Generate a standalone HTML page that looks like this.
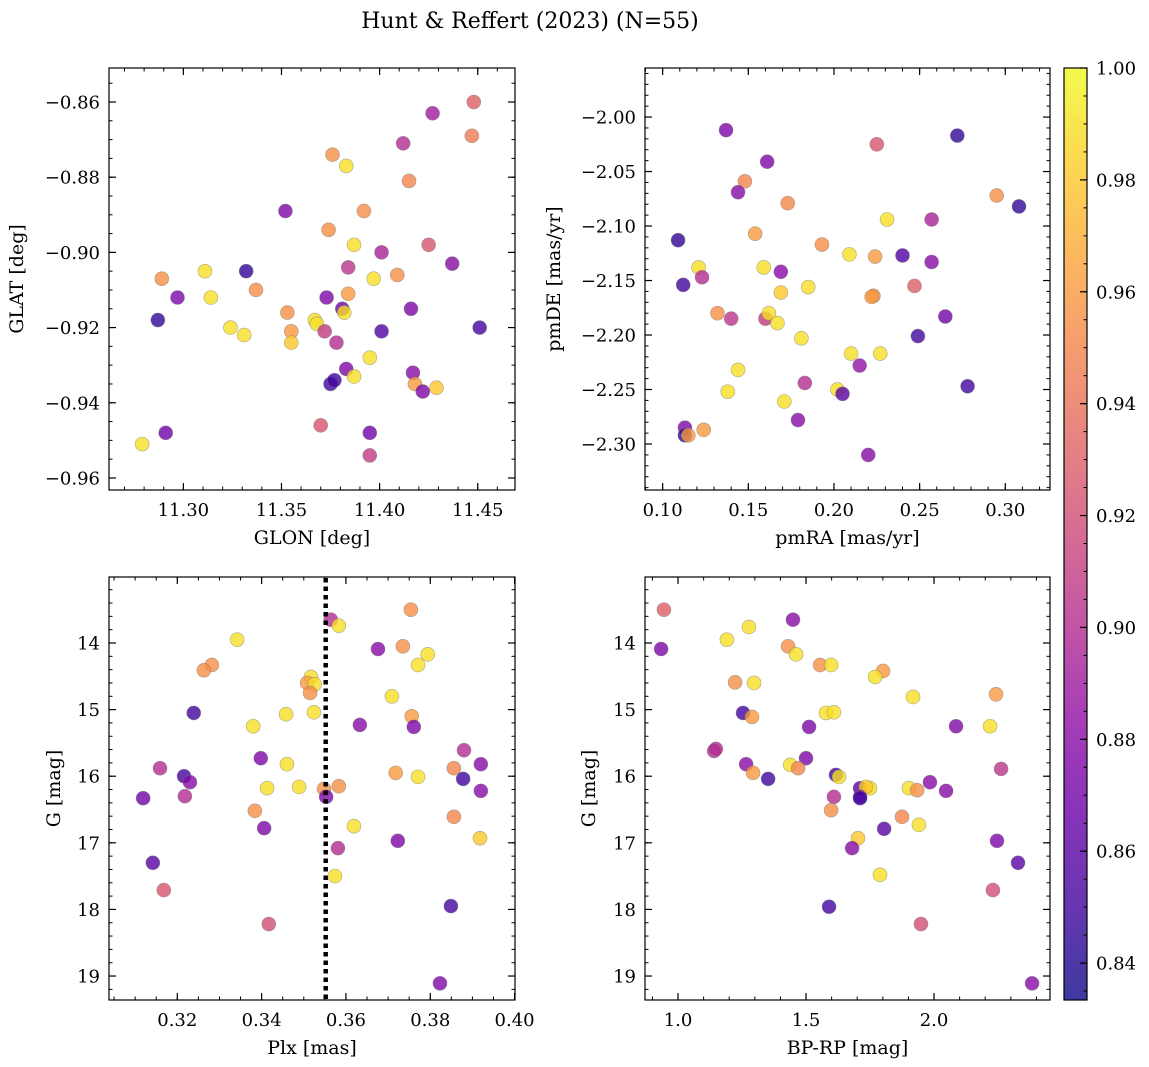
<!DOCTYPE html>
<html><head><meta charset="utf-8"><style>
body{margin:0;background:#fff;}
svg{display:block;font-family:"DejaVu Serif","Liberation Serif",serif;}
</style></head><body>
<svg id="fig" width="1149" height="1067" viewBox="0 0 1149 1067">
<text x="530" y="28" font-size="22" text-anchor="middle">Hunt &amp; Reffert (2023) (N=55)</text>
</svg>
<script>
// ---- Panel 1: GLON vs GLAT ----
const p1x=[11.448,11.447,11.427,11.412,11.415,11.376,11.383,11.352,11.392,11.374,11.387,11.425,11.401,11.409,11.437,11.289,11.311,11.332,11.384,11.397,11.337,11.297,11.314,11.373,11.384,11.381,11.382,11.353,11.416,11.324,11.331,11.287,11.367,11.368,11.355,11.355,11.372,11.451,11.401,11.378,11.383,11.395,11.387,11.417,11.375,11.377,11.418,11.429,11.422,11.370,11.395,11.395,11.279,11.291];
const p1y=[-0.860,-0.869,-0.863,-0.871,-0.881,-0.874,-0.877,-0.889,-0.889,-0.894,-0.898,-0.898,-0.900,-0.906,-0.903,-0.907,-0.905,-0.905,-0.904,-0.907,-0.910,-0.912,-0.912,-0.912,-0.911,-0.915,-0.916,-0.916,-0.915,-0.920,-0.922,-0.918,-0.918,-0.919,-0.921,-0.924,-0.921,-0.920,-0.921,-0.924,-0.931,-0.928,-0.933,-0.932,-0.935,-0.934,-0.935,-0.936,-0.937,-0.946,-0.948,-0.954,-0.951,-0.948];
const p1c=[0.93,0.945,0.89,0.90,0.95,0.955,0.99,0.875,0.955,0.955,0.99,0.925,0.895,0.955,0.88,0.955,0.99,0.845,0.905,0.99,0.955,0.875,0.99,0.875,0.96,0.87,0.99,0.955,0.875,0.99,0.99,0.845,0.99,0.99,0.96,0.98,0.91,0.85,0.855,0.90,0.875,0.99,0.99,0.88,0.85,0.85,0.96,0.98,0.875,0.925,0.87,0.91,0.99,0.87];
// ---- Panel 2: pmRA vs pmDE ----
const p2x=[0.137,0.272,0.225,0.161,0.148,0.144,0.173,0.295,0.308,0.231,0.257,0.154,0.109,0.193,0.209,0.240,0.257,0.224,0.121,0.123,0.159,0.169,0.112,0.185,0.169,0.223,0.222,0.247,0.132,0.140,0.160,0.162,0.167,0.265,0.249,0.181,0.210,0.227,0.144,0.215,0.278,0.183,0.138,0.202,0.205,0.171,0.179,0.113,0.124,0.113,0.115,0.220];
const p2y=[-2.012,-2.017,-2.025,-2.041,-2.059,-2.069,-2.079,-2.072,-2.082,-2.094,-2.094,-2.107,-2.113,-2.117,-2.126,-2.127,-2.133,-2.128,-2.138,-2.147,-2.138,-2.142,-2.154,-2.156,-2.161,-2.164,-2.165,-2.155,-2.180,-2.185,-2.185,-2.180,-2.189,-2.183,-2.201,-2.203,-2.217,-2.217,-2.232,-2.228,-2.247,-2.244,-2.252,-2.250,-2.254,-2.261,-2.278,-2.285,-2.287,-2.292,-2.292,-2.310];
const p2c=[0.875,0.845,0.925,0.875,0.95,0.88,0.95,0.955,0.845,0.99,0.895,0.96,0.845,0.955,0.99,0.855,0.88,0.96,0.99,0.90,0.99,0.88,0.85,0.99,0.98,0.955,0.96,0.93,0.955,0.905,0.91,0.99,0.99,0.87,0.85,0.99,0.99,0.99,0.99,0.885,0.85,0.90,0.99,0.99,0.86,0.99,0.88,0.875,0.96,0.845,0.96,0.88];
// ---- Panel 3: Plx vs G ----
const p3x=[0.3754,0.3564,0.3583,0.3342,0.3735,0.3676,0.3794,0.3771,0.3282,0.3263,0.3517,0.3508,0.3526,0.3515,0.3709,0.3239,0.3458,0.3524,0.3756,0.3380,0.3633,0.3761,0.3880,0.3398,0.3159,0.3460,0.3856,0.3920,0.3216,0.3230,0.3718,0.3771,0.3878,0.3413,0.3489,0.3583,0.3548,0.3119,0.3218,0.3920,0.3553,0.3384,0.3856,0.3918,0.3619,0.3406,0.3723,0.3581,0.3142,0.3574,0.3168,0.3849,0.3417,0.3823];
const p3y=[13.50,13.65,13.74,13.95,14.05,14.09,14.17,14.33,14.33,14.41,14.51,14.60,14.62,14.75,14.80,15.05,15.07,15.04,15.10,15.25,15.23,15.26,15.61,15.73,15.88,15.82,15.88,15.82,16.00,16.09,15.95,16.01,16.04,16.18,16.16,16.15,16.19,16.33,16.30,16.22,16.31,16.52,16.61,16.93,16.75,16.78,16.97,17.08,17.30,17.50,17.71,17.95,18.22,19.11];
const p3c=[0.955,0.90,0.99,0.99,0.955,0.88,0.99,0.99,0.955,0.955,0.99,0.96,0.99,0.955,0.99,0.85,0.99,0.99,0.96,0.99,0.88,0.875,0.90,0.875,0.90,0.99,0.95,0.88,0.85,0.88,0.96,0.99,0.85,0.99,0.99,0.955,0.955,0.87,0.90,0.88,0.875,0.955,0.95,0.98,0.99,0.875,0.875,0.90,0.86,0.99,0.925,0.85,0.92,0.875];
const plxLine=[0.3552];
// ---- Panel 4: BP-RP vs G ----
const p4x=[0.945,0.934,1.277,1.449,1.191,1.430,1.461,1.801,1.555,1.598,1.770,1.223,1.297,1.918,2.242,1.254,1.289,1.578,1.609,1.512,2.086,2.219,1.141,1.148,1.500,1.266,1.438,1.469,2.262,1.617,1.629,1.984,1.293,2.047,1.711,1.750,1.734,1.902,1.934,1.609,1.711,1.352,1.711,1.598,1.875,1.805,1.941,1.703,1.680,2.246,2.328,1.789,2.230,1.590,1.949,2.383];
const p4y=[13.50,14.09,13.76,13.65,13.95,14.05,14.17,14.42,14.33,14.33,14.51,14.59,14.60,14.81,14.77,15.05,15.11,15.05,15.04,15.26,15.25,15.25,15.62,15.59,15.73,15.82,15.83,15.88,15.89,15.98,16.01,16.09,15.95,16.22,16.18,16.18,16.16,16.18,16.21,16.31,16.31,16.04,16.33,16.51,16.61,16.79,16.73,16.93,17.08,16.97,17.30,17.48,17.71,17.96,18.22,19.11];
const p4c=[0.93,0.875,0.99,0.88,0.99,0.955,0.99,0.96,0.955,0.99,0.99,0.955,0.99,0.99,0.96,0.85,0.96,0.99,0.99,0.875,0.875,0.99,0.90,0.90,0.875,0.88,0.99,0.95,0.905,0.85,0.99,0.88,0.96,0.88,0.86,0.99,0.98,0.99,0.955,0.90,0.875,0.85,0.85,0.955,0.95,0.86,0.99,0.98,0.88,0.875,0.86,0.99,0.92,0.85,0.92,0.88];
const cbTicks=[0.84,0.86,0.88,0.90,0.92,0.94,0.96,0.98,1.00];

const NS="http://www.w3.org/2000/svg";
const svg=document.getElementById('fig');
const vmin=0.8334,vmax=1.0;
const stops=[[13,8,135],[65,4,157],[106,0,168],[143,13,164],[177,42,144],[204,71,120],[225,100,98],[242,132,75],[252,166,54],[252,206,37],[240,249,33]];
function plasma(v){let t=Math.max(0,Math.min(1,(v-vmin)/(vmax-vmin)))*10;let i=Math.min(9,Math.floor(t)),f=t-i;const a=stops[i],b=stops[i+1];return `rgb(${a.map((x,k)=>Math.round(x+(b[k]-x)*f)).join(',')})`;}
function mk(tag,attrs,parent){const e=document.createElementNS(NS,tag);for(const k in attrs)e.setAttribute(k,attrs[k]);(parent||svg).appendChild(e);return e;}
function fmt(v,d){return (v<0?'−':'')+Math.abs(v).toFixed(d);}

function panel(name,box,xr,yr,xMaj,xMin,yMaj,yMin,xd,yd,xs,ys,cs,xlabel,ylabel,ylabX,invert){
  const [L,T,R,B]=box;
  const sx=v=>L+(v-xr[0])/(xr[1]-xr[0])*(R-L);
  const sy=invert?(v=>T+(v-yr[0])/(yr[1]-yr[0])*(B-T)):(v=>B-(v-yr[0])/(yr[1]-yr[0])*(B-T));
  const g=mk('g',{});
  
  
  const eps=1e-9;
  function ticks(step,lo,hi){const a=[];for(let v=Math.ceil(lo/step-eps)*step;v<=hi+eps;v+=step)a.push(Math.round(v/step)*step);return a;}
  ticks(xMin,xr[0],xr[1]).forEach(v=>{const x=sx(v);mk('line',{x1:x,x2:x,y1:B,y2:B-3.5,stroke:'#000','stroke-width':1},g);mk('line',{x1:x,x2:x,y1:T,y2:T+3.5,stroke:'#000','stroke-width':1},g);});
  ticks(yMin,Math.min(...yr),Math.max(...yr)).forEach(v=>{const y=sy(v);mk('line',{x1:L,x2:L+3.5,y1:y,y2:y,stroke:'#000','stroke-width':1},g);mk('line',{x1:R,x2:R-3.5,y1:y,y2:y,stroke:'#000','stroke-width':1},g);});
  ticks(xMaj,xr[0],xr[1]).forEach(v=>{const x=sx(v);mk('line',{x1:x,x2:x,y1:B,y2:B-7,stroke:'#000','stroke-width':1.2},g);mk('line',{x1:x,x2:x,y1:T,y2:T+7,stroke:'#000','stroke-width':1.2},g);
    const t=mk('text',{x:x,y:B+26,'font-size':18,'text-anchor':'middle'},g);t.textContent=fmt(v,xd);
    
    });
  ticks(yMaj,Math.min(...yr),Math.max(...yr)).forEach(v=>{const y=sy(v);mk('line',{x1:L,x2:L+7,y1:y,y2:y,stroke:'#000','stroke-width':1.2},g);mk('line',{x1:R,x2:R-7,y1:y,y2:y,stroke:'#000','stroke-width':1.2},g);
    const t=mk('text',{x:L-9,y:y+6.5,'font-size':18,'text-anchor':'end'},g);t.textContent=fmt(v,yd);
    
    });
  for(let i=0;i<xs.length;i++){
    const c=mk('circle',{cx:sx(xs[i]),cy:sy(ys[i]),r:7,fill:plasma(cs[i]),'fill-opacity':0.8,stroke:'#777','stroke-opacity':0.6,'stroke-width':0.6},g);
    
    
  }
  const xl=mk('text',{x:(L+R)/2,y:B+54,'font-size':19,'text-anchor':'middle'},g);xl.textContent=xlabel;
  
  
  const yl=mk('text',{x:ylabX,y:(T+B)/2,'font-size':19,'text-anchor':'middle',transform:`rotate(-90 ${ylabX} ${(T+B)/2})`},g);yl.textContent=ylabel;
  
  
  mk('rect',{x:L,y:T,width:R-L,height:B-T,fill:'none',stroke:'#000','stroke-width':1.2},g);
  return {sx,sy,g};
}

panel('panel-glon-glat',[109,68,515,490],[11.2621,11.4690],[-0.9632,-0.85096],0.05,0.01,0.02,0.005,2,2,p1x,p1y,p1c,'GLON [deg]','GLAT [deg]',23,false);
panel('panel-pm',[645,68,1050,490],[0.0897,0.3261],[-2.3422,-1.955],0.05,0.01,0.05,0.01,2,2,p2x,p2y,p2c,'pmRA [mas/yr]','pmDE [mas/yr]',560,false);
const P3=panel('panel-plx-g',[109,577,515,1000],[0.3038,0.4001],[13.009,19.36],0.02,0.005,1,0.2,2,0,p3x,p3y,p3c,'Plx [mas]','G [mag]',60,true);
plxLine.forEach(v=>{const x=P3.sx(v);const l=mk('line',{x1:x,x2:x,y1:578,y2:999,stroke:'#000','stroke-width':4.5,'stroke-dasharray':'4.5,4'});
  
  });
panel('panel-color-g',[645,577,1050,1000],[0.871,2.453],[13.009,19.36],0.5,0.1,1,0.2,1,0,p4x,p4y,p4c,'BP-RP [mag]','G [mag]',595,true);

// colorbar
const cb=mk('g',{});


const defs=mk('defs',{});
const lg=mk('linearGradient',{id:'cbg',x1:0,y1:1,x2:0,y2:0},defs);
for(let i=0;i<=20;i++){const v=vmin+(vmax-vmin)*i/20;mk('stop',{offset:i/20,'stop-color':plasma(v),'stop-opacity':0.8},lg);}
const CL=1064,CR=1087,CT=68,CB=1000;
mk('rect',{x:CL,y:CT,width:CR-CL,height:CB-CT,fill:'url(#cbg)',stroke:'#000','stroke-width':1.2},cb);
const cy=v=>CB-(v-vmin)/(vmax-vmin)*(CB-CT);
for(let v=0.835;v<=1.0001;v+=0.005){mk('line',{x1:CR,x2:CR-3.5,y1:cy(v),y2:cy(v),stroke:'#000'},cb);}
cbTicks.forEach(v=>{const y=cy(v);mk('line',{x1:CR,x2:CR-7,y1:y,y2:y,stroke:'#000','stroke-width':1.2},cb);
  const t=mk('text',{x:CR+9,y:y+6.5,'font-size':18},cb);t.textContent=v.toFixed(2);
  
  });
</script>
</body></html>
